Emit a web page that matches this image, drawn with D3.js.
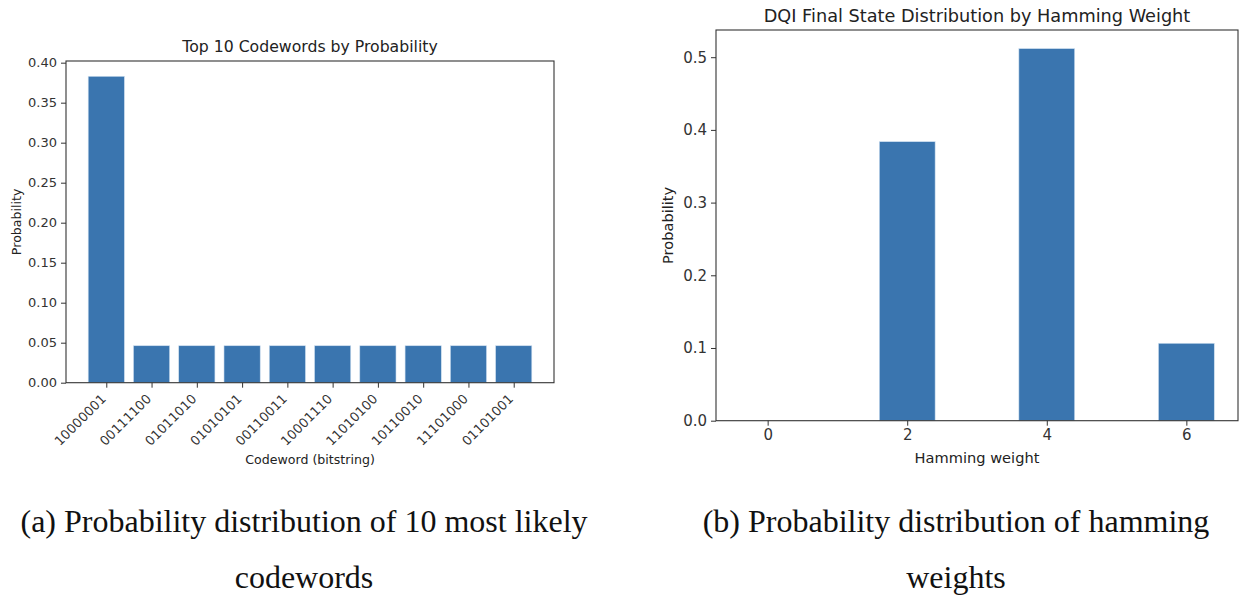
<!DOCTYPE html>
<html><head><meta charset="utf-8">
<script src="https://cdn.jsdelivr.net/npm/d3@7"></script>
<style>
html,body{margin:0;padding:0;background:#fff;}
svg{display:block;}
</style></head>
<body>
<svg id="c" width="1243" height="596"></svg>
<script>
// ---- data ----
const codewords = ["10000001","00111100","01011010","01010101","00110011","10001110","11010100","10110010","11101000","01101001"];
const codewordProb = [0.383,0.0462,0.0462,0.0462,0.0462,0.0462,0.0462,0.0462,0.0462,0.0462];
const leftYTicks = [0,0.05,0.10,0.15,0.20,0.25,0.30,0.35,0.40];

const hammingWeights = [0,2,4,6];
const hammingProb = [0,0.3838,0.5118,0.1065];
const rightYTicks = [0,0.1,0.2,0.3,0.4,0.5];
const rightXTicks = [0,2,4,6];

const captionA = ["(a) Probability distribution of 10 most likely","codewords"];
const captionB = ["(b) Probability distribution of hamming","weights"];

const svg = d3.select("#c");
const barColor = "#3a75af";
const ink = "#333";
const FONT = "DejaVu Sans, sans-serif";

function drawChart(o){
  const g = svg.append("g");
  const x = d3.scaleLinear().domain(o.xDomain).range([o.left,o.right]);
  const y = d3.scaleLinear().domain([0,o.yMax]).range([o.bottom,o.top]);
  // bars
  g.selectAll("rect.bar").data(o.xs.map((v,i)=>({x:v,y:o.ys[i]}))).enter().append("rect")
    .attr("x",d=>x(d.x-0.4)).attr("width",d=>x(d.x+0.4)-x(d.x-0.4))
    .attr("y",d=>y(d.y)).attr("height",d=>y(0)-y(d.y))
    .attr("fill",barColor).attr("stroke","#cfe0f0").attr("stroke-width",0.6);
  // frame
  g.append("rect").attr("x",o.left).attr("y",o.top).attr("width",o.right-o.left).attr("height",o.bottom-o.top)
    .attr("fill","none").attr("stroke",ink).attr("stroke-width",1.1);
  // y axis
  const ya = d3.axisLeft(y).tickValues(o.yTicks).tickFormat(d3.format(o.yFmt)).tickSize(5).tickPadding(4);
  const yg = g.append("g").attr("transform",`translate(${o.left},0)`).call(ya);
  yg.select(".domain").remove();
  yg.selectAll("line").attr("stroke",ink);
  yg.selectAll("text").attr("fill",ink).style("font-family",FONT).style("font-size",o.fs+"px");
  // x axis
  const xa = d3.axisBottom(x).tickValues(o.xTickVals).tickFormat((d,i)=>o.xTickLabels[i]).tickSize(5).tickPadding(4);
  const xg = g.append("g").attr("transform",`translate(0,${o.bottom})`).call(xa);
  xg.select(".domain").remove();
  xg.selectAll("line").attr("stroke",ink);
  const xt = xg.selectAll("text").attr("fill",ink).style("font-family",FONT).style("font-size",o.xfs+"px");
  if(o.rotate){
    xt.attr("text-anchor","end").attr("dy",null).attr("y",null)
      .attr("transform",`translate(${o.rotDx},${o.rotDy}) rotate(-45)`);
  }
  // title
  g.append("text").attr("x",(o.left+o.right)/2).attr("y",o.titleY).attr("text-anchor","middle")
    .attr("fill","#222").style("font-family",FONT).style("font-size",o.tfs+"px").text(o.title);
  // x label
  g.append("text").attr("x",(o.left+o.right)/2).attr("y",o.xLabelY).attr("text-anchor","middle")
    .attr("fill","#222").style("font-family",FONT).style("font-size",o.lfs+"px").text(o.xLabel);
  // y label
  g.append("text").attr("transform",`translate(${o.yLabelX},${(o.top+o.bottom)/2}) rotate(-90)`)
    .attr("text-anchor","middle").attr("fill","#222").style("font-family",FONT).style("font-size",o.lfs+"px").text("Probability");
}

drawChart({
  left:66,right:554,top:61,bottom:382.7,
  xDomain:[-0.89,9.89], yMax:0.4021,
  xs:codewords.map((d,i)=>i), ys:codewordProb,
  yTicks:leftYTicks, yFmt:".2f",
  xTickVals:codewords.map((d,i)=>i), xTickLabels:codewords,
  rotate:true, rotDx:0, rotDy:17,
  fs:13, xfs:13, lfs:12.6, tfs:15.7,
  title:"Top 10 Codewords by Probability", titleY:52,
  xLabel:"Codeword (bitstring)", xLabelY:464, yLabelX:21
});

drawChart({
  left:716,right:1238,top:30,bottom:420.7,
  xDomain:[-0.74,6.74], yMax:0.5374,
  xs:hammingWeights, ys:hammingProb,
  yTicks:rightYTicks, yFmt:".1f",
  xTickVals:rightXTicks, xTickLabels:rightXTicks.map(String),
  rotate:false,
  fs:15, xfs:15, lfs:14.6, tfs:17.7,
  title:"DQI Final State Distribution by Hamming Weight", titleY:22,
  xLabel:"Hamming weight", xLabelY:463, yLabelX:673
});

// captions
const CF = "Liberation Serif, serif";
function caption(lines,cx){
  svg.append("text").attr("x",cx).attr("y",532).attr("text-anchor","middle").attr("fill","#111")
    .style("font-family",CF).style("font-size","32px").text(lines[0]);
  svg.append("text").attr("x",cx).attr("y",588).attr("text-anchor","middle").attr("fill","#111")
    .style("font-family",CF).style("font-size","32px").text(lines[1]);
}
caption(captionA,304);
caption(captionB,956);
</script>
</body></html>
